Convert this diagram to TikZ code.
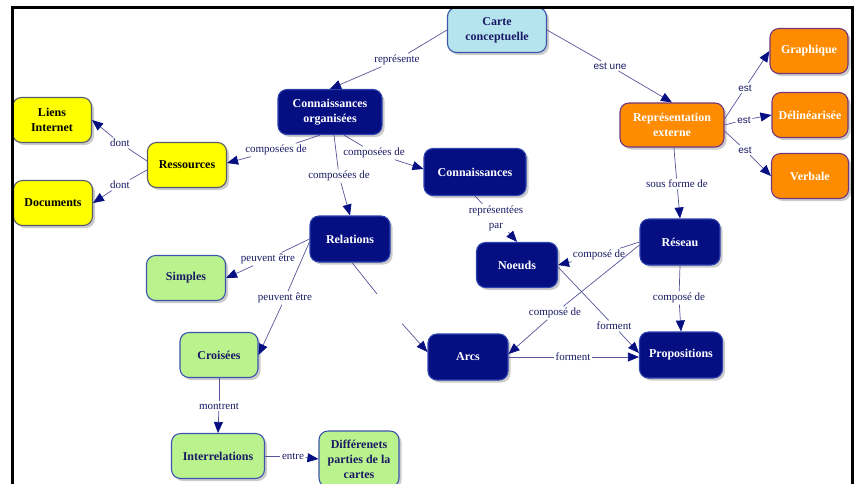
\documentclass[tikz,border=0pt]{standalone}
\usepackage{fontspec}
\setmainfont{Liberation Serif}
\newfontfamily\lsans{Liberation Sans}
\usetikzlibrary{arrows.meta,shadows}
\definecolor{navy}{RGB}{5,15,130}
\definecolor{navyrim}{RGB}{45,65,175}
\definecolor{lblue}{RGB}{182,228,238}
\definecolor{orng}{RGB}{255,140,0}
\definecolor{orim}{RGB}{115,55,125}
\definecolor{yel}{RGB}{255,255,0}
\definecolor{yrim}{RGB}{90,90,110}
\definecolor{grn}{RGB}{186,242,142}
\definecolor{grim}{RGB}{60,85,170}
\definecolor{linec}{RGB}{85,85,155}
\definecolor{txtc}{RGB}{25,25,100}
\tikzset{
  concept/.style={rounded corners=9pt, line width=1.1pt, align=center,
    font=\fontsize{12}{15}\selectfont\bfseries,
    drop shadow={shadow xshift=2.5pt, shadow yshift=-2.5pt, fill=black!40},
    minimum height=45pt, minimum width=79pt, inner sep=2pt},
  dk/.style={concept, fill=navy, draw=navyrim, text=white},
  lb/.style={concept, fill=lblue, draw=grim, text=txtc},
  orn/.style={concept, fill=orng, draw=orim, text=white},
  yl/.style={concept, fill=yel, draw=yrim, text=black},
  gr/.style={concept, fill=grn, draw=grim, text=txtc},
  lbl/.style={font=\fontsize{11}{15}\selectfont, text=txtc, inner sep=1.5pt, align=center},
  slbl/.style={lbl, font=\lsans\fontsize{10}{12}\selectfont},
  ln/.style={draw=linec, line width=0.7pt},
  arr/.style={ln, -{Triangle[length=11pt,width=9pt,color=navy]}}
}
\begin{document}
\begin{tikzpicture}[x=1pt,y=-1pt]
\useasboundingbox (0,0) rectangle (856,483);
% concepts
\node[lb, minimum width=99pt] (car) at (497,30) {Carte\\conceptuelle};
\node[dk, minimum width=104pt] (co) at (330,112) {Connaissances\\organisées};
\node[orn, minimum width=104pt, minimum height=44pt] (rep) at (672,125) {Représentation\\externe};
\node[orn, minimum width=78pt] (gra) at (809,51) {Graphique};
\node[orn, minimum width=76pt] (del) at (810,115) {Délinéarisée};
\node[orn, minimum width=77pt] (ver) at (810,176) {Verbale};
\node[yl] (lie) at (52,120) {Liens\\Internet};
\node[yl] (res) at (187,165) {Ressources};
\node[yl] (doc) at (53,203) {Documents};
\node[dk, minimum width=102pt, minimum height=47pt] (con) at (475,172) {Connaissances};
\node[dk, minimum width=80pt, minimum height=46pt] (rel) at (350,239) {Relations};
\node[gr] (sim) at (186,278) {Simples};
\node[dk, minimum width=81pt] (noe) at (517,265) {Noeuds};
\node[dk, minimum width=80pt, minimum height=46pt] (rse) at (680,242) {Réseau};
\node[gr, minimum width=78pt] (cro) at (219,355) {Croisées};
\node[dk, minimum width=80pt, minimum height=46pt] (arc) at (468,357) {Arcs};
\node[dk, minimum width=83pt, minimum height=46pt] (pro) at (681,355) {Propositions};
\node[gr, minimum width=93pt] (int) at (218,456) {Interrelations};
\node[gr, minimum width=80pt, minimum height=56pt] (dif) at (359,459) {Différenets\\parties de la\\cartes};
% linking phrases
\node[lbl] (l1) at (397,60) {représente};
\node[slbl] (l2) at (610,66) {est une};
\node[slbl] (l3) at (745,88) {est};
\node[slbl] (l4) at (744,120) {est};
\node[slbl] (l5) at (745,150) {est};
\node[lbl] (l6) at (677,184) {sous forme de};
\node[lbl] (l7) at (276,150) {composées de};
\node[lbl] (l8) at (374,153) {composées de};
\node[lbl] (l9) at (339,176) {composées de};
\node[lbl] (l10) at (120,143) {dont};
\node[lbl] (l11) at (120,185) {dont};
\node[lbl] (l12) at (496,218) {représentées\\par};
\node[lbl] (l13) at (268,259) {peuvent être};
\node[lbl] (l14) at (285,298) {peuvent être};
\node[minimum width=26pt, minimum height=30pt, inner sep=0pt] (l15) at (389,309) {};
\node[lbl] (l16) at (599,255) {composé de};
\node[lbl] (l17) at (555,313) {composé de};
\node[lbl] (l18) at (614,326) {forment};
\node[lbl] (l19) at (573,357) {forment};
\node[lbl] (l20) at (679,298) {composé de};
\node[lbl] (l21) at (219,406) {montrent};
\node[lbl] (l22) at (293,456) {entre};
% connectors
\draw[ln] (car.west) -- (l1);  \draw[arr] (l1) -- (co.north);
\draw[ln] (car.east) -- (l2);  \draw[arr] (l2) -- (rep.north);
\draw[ln] ([yshift=6pt]rep.east) -- (l3);  \draw[arr] (l3) -- (gra.west);
\draw[ln] (rep.east) -- (l4);  \draw[arr] (l4) -- (del.west);
\draw[ln] ([yshift=-6pt]rep.east) -- (l5);  \draw[arr] (l5) -- (ver.west);
\draw[ln] (rep) -- (l6);  \draw[arr] (l6) -- (rse.north);
\draw[ln] ([xshift=-10pt]co.south) -- (l7);  \draw[arr] (l7) -- ([yshift=2pt]res.east);
\draw[ln] ([xshift=14pt]co.south) -- (l8);  \draw[arr] (l8) -- ([yshift=3pt]con.west);
\draw[ln] ([xshift=4pt]co.south) -- (l9);  \draw[arr] (l9) -- (rel.north);
\draw[ln] ([yshift=4pt]res.west) -- (l10);  \draw[arr] (l10) -- (lie.east);
\draw[ln] ([yshift=-5pt]res.west) -- (l11);  \draw[arr] (l11) -- (doc.east);
\draw[ln] (con.south) -- (l12);  \draw[arr] (l12) -- (noe.north);
\draw[ln] (rel.west) -- (l13);  \draw[arr] (l13) -- (sim.east);
\draw[ln] ([yshift=-3pt]rel.west) -- (l14);  \draw[arr] (l14) -- (cro.east);
\draw[ln] ([xshift=2pt]rel.south) -- (l15);  \draw[arr] (l15) -- ([yshift=5pt]arc.west);
\draw[ln] (rse.west) -- (l16);  \draw[arr] (l16) -- (noe.east);
\draw[ln] ([yshift=-3pt]rse.west) -- (l17);  \draw[arr] (l17) -- ([yshift=3pt]arc.east);
\draw[ln] ([yshift=-2pt]noe.east) -- (l18);  \draw[arr] (l18) -- ([yshift=2pt]pro.west);
\draw[ln] (arc.east) -- (l19);  \draw[arr] (l19) -- (l19 -| pro.west);
\draw[ln] (rse.south) -- (l20);  \draw[arr] (l20) -- (pro.north);
\draw[ln] (cro.south) -- (l21);  \draw[arr] (l21) -- (int.north);
\draw[ln] (int.east) -- (l22);  \draw[arr] (l22) -- (dif.west);
% frame
\draw[line width=3pt] (12,490) -- (12,7) -- (852,7) -- (852,490);
\end{tikzpicture}
\end{document}
